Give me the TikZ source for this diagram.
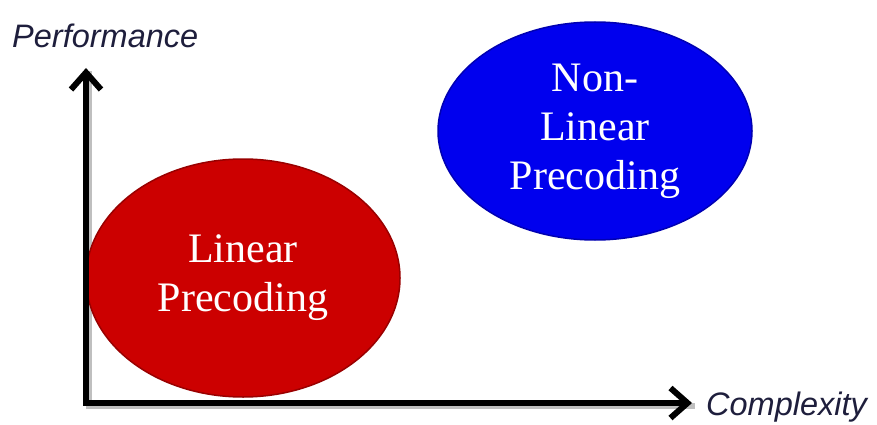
\documentclass[tikz,border=0pt]{standalone}
\usepackage{fontspec}
\setmainfont{Liberation Serif}
\newfontfamily\labelfont{Liberation Sans}
\usetikzlibrary{shapes.geometric,arrows.meta}
\definecolor{lpred}{RGB}{204,0,0}
\definecolor{nlblue}{RGB}{0,0,238}
\definecolor{axlabel}{RGB}{30,30,60}
\tikzset{
  x=1pt, y=-1pt,
  blob/.style={ellipse, inner sep=0pt, minimum width=314pt, text=white, align=center,
    font=\fontsize{42}{49}\selectfont, draw=#1!75!black, line width=1.5pt, fill=#1},
  axis/.style={line width=6pt, line join=miter,
    {Straight Barb[length=17pt,width=30pt]}-{Straight Barb[length=17pt,width=30pt]}},
  axshadow/.style={line width=6pt, draw=black!25, line join=miter},
  axtext/.style={text=axlabel, font=\labelfont\itshape\fontsize{32.5}{36}\selectfont, inner sep=0pt}
}
\begin{document}
\begin{tikzpicture}
\useasboundingbox (0,0) rectangle (877,425);
\coordinate (ytip) at (86,68);
\coordinate (O) at (86,403);
\coordinate (xtip) at (692,403);
\draw[axshadow] ([shift={(3,3)}]ytip) -- ([shift={(3,3)}]O) -- ([shift={(3,3)}]xtip);
\node[blob=lpred, minimum height=238pt] (lin) at (243,278) {Linear\\Precoding};
\node[blob=nlblue, minimum height=218pt] (nonlin) at (595,131) {Non-\\Linear\\Precoding};
\draw[axis] (ytip) -- (O) -- (xtip);
\node[axtext, anchor=base west] (perf) at (12,48) {Performance};
\node[axtext, anchor=base west] (comp) at (706,415) {Complexity};
\end{tikzpicture}
\end{document}
